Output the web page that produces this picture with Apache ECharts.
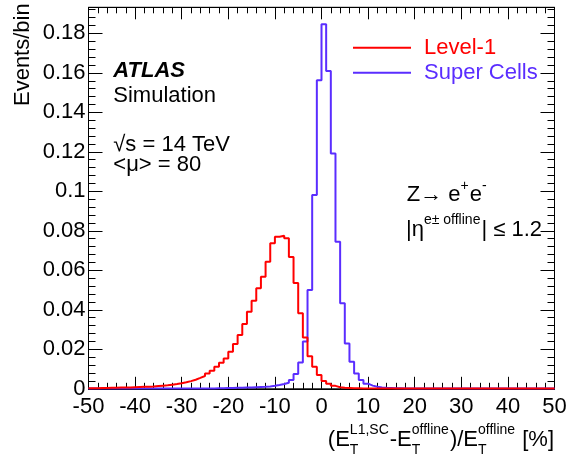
<!DOCTYPE html>
<html><head><meta charset="utf-8">
<script src="https://cdn.jsdelivr.net/npm/echarts@6/dist/echarts.min.js"></script>
<style>html,body{margin:0;padding:0;background:#fff}#c{width:580px;height:464px}</style>
</head><body><div id="c"></div>
<script>
// ---- data ----
const xMin = -50, xMax = 50, binWidth = 1;
const yMin = 0, yMax = 0.1932;
const xTickStep = 10, yTickStep = 0.02, yMinorStep = 0.004;
const seriesNames = ['Level-1', 'Super Cells'];
// bins from -50 to 49 (1% wide)
const level1 = [
  0.0003,0.0003,0.0004,0.0004,0.0005,0.0005,0.0006,0.0006,0.0007,0.0008,
  0.0009,0.0010,0.0011,0.0012,0.0014,0.0016,0.0018,0.0021,0.0024,0.0028,
  0.0033,0.0039,0.0046,0.0055,0.0065,0.0078,0.0092,0.0112,0.0132,0.0154,
  0.0188,0.0227,0.0272,0.0328,0.0390,0.0446,0.0509,0.0568,0.0644,0.0737,
  0.0770,0.0775,0.0762,0.0668,0.0536,0.0383,0.0260,0.0165,0.0112,0.0070,
  0.0040,0.0026,0.0015,0.0008,0.0005,0.0004,0.0003,0.0003,0.0002,0.0002,
  0.0002,0.0002,0.0002,0.0002,0.0002,0.0001,0.0001,0.0001,0.0001,0.0001,
  0.0001,0.0001,0.0001,0.0001,0.0001,0.0001,0.0001,0.0001,0.0001,0.0001,
  0.0001,0.0001,0.0001,0.0001,0.0001,0.0001,0.0001,0.0001,0.0001,0.0001,
  0.0001,0.0001,0.0001,0.0001,0.0001,0.0001,0.0001,0.0001,0.0001,0.0001
];
const superCells = [
  0.0001,0.0001,0.0001,0.0001,0.0001,0.0001,0.0001,0.0001,0.0001,0.0001,
  0.0001,0.0001,0.0001,0.0001,0.0001,0.0001,0.0001,0.0001,0.0001,0.0001,
  0.0001,0.0001,0.0001,0.0002,0.0002,0.0002,0.0002,0.0003,0.0003,0.0004,
  0.0004,0.0005,0.0005,0.0006,0.0007,0.0008,0.0009,0.0010,0.0012,0.0015,
  0.0019,0.0024,0.0031,0.0045,0.0075,0.0133,0.0239,0.0500,0.0981,0.1563,
  0.1846,0.1609,0.1192,0.0745,0.0433,0.0230,0.0137,0.0078,0.0045,0.0026,
  0.0016,0.0010,0.0007,0.0005,0.0004,0.0003,0.0003,0.0002,0.0002,0.0002,
  0.0001,0.0001,0.0001,0.0001,0.0001,0.0001,0.0001,0.0001,0.0001,0.0001,
  0.0001,0.0001,0.0001,0.0001,0.0001,0.0001,0.0001,0.0001,0.0001,0.0001,
  0.0001,0.0001,0.0001,0.0001,0.0001,0.0001,0.0001,0.0001,0.0001,0.0001
];

// ---- style ----
const FF = '"Liberation Sans", Arial, Helvetica, sans-serif';
const RED = '#ff0000', BLUE = '#5a2dff';
const MAIN = 22, SCRIPT = 14;

function histPoints(vals) {
  const pts = [[xMin, vals[0]]];
  vals.forEach((v, i) => pts.push([xMin + (i + 1) * binWidth, v]));
  return pts;
}

const mctx = document.createElement('canvas').getContext('2d');
function fontOf(sz, pre) { return (pre || '') + sz + 'px ' + FF; }
function measure(t, f) { mctx.font = f; return mctx.measureText(t).width; }
const MID = 0.33;
function layout(tokens, x0, base, align, color, supRaise, subDrop) {
  let w = 0; const items = [];
  tokens.forEach(tk => {
    if (tk.t !== undefined) {
      const f = fontOf(MAIN, tk.pre);
      items.push({ text: tk.t, dx: w, dy: 0, size: MAIN, font: f });
      w += measure(tk.t, f);
    } else {
      let ww = 0; const f = fontOf(SCRIPT);
      if (tk.sup) { items.push({ text: tk.sup, dx: w, dy: -supRaise, size: SCRIPT, font: f }); ww = Math.max(ww, measure(tk.sup, f)); }
      if (tk.sub) { items.push({ text: tk.sub, dx: w, dy: subDrop, size: SCRIPT, font: f }); ww = Math.max(ww, measure(tk.sub, f)); }
      w += ww + 1;
    }
  });
  const start = align === 'right' ? x0 - w : x0;
  return items.map(it => ({
    type: 'text', x: start + it.dx, y: base + it.dy - MID * it.size, silent: true,
    style: { text: it.text, font: it.font, fill: color, align: 'left', verticalAlign: 'middle',
             textAlign: 'left', textVerticalAlign: 'middle' }
  }));
}
function simpleText(t, x, base, pre) {
  return layout([{ t: t, pre: pre }], x, base, 'left', '#000', 0, 0);
}

const graphics = [].concat(
  [{ type: 'text', x: 23.3, y: 3.3, rotation: Math.PI / 2, silent: true,
     style: { text: 'Events/bin', font: fontOf(MAIN), fill: '#000', align: 'right', verticalAlign: 'middle',
              textAlign: 'right', textVerticalAlign: 'middle' } }],
  simpleText('ATLAS', 113.3, 78.3, 'italic bold '),
  simpleText('Simulation', 113.3, 103.3),
  simpleText('\u221As = 14 TeV', 113.3, 151.7),
  simpleText('<\u03bc> = 80', 113.3, 171.7),
  layout([{ t: 'Z\u2192 e' }, { sup: '+' }, { t: 'e' }, { sup: '-' }], 406.7, 201.7, 'left', '#000', 11, 0),
  layout([{ t: '|\u03b7' }, { sup: 'e\u00b1 offline' }, { t: '| \u2264 1.2' }], 406, 236.7, 'left', '#000', 11.5, 0),
  layout([{ t: '(E' }, { sup: 'L1,SC', sub: 'T' }, { t: '-E' }, { sup: 'offline', sub: 'T' },
          { t: ')/E' }, { sup: 'offline', sub: 'T' }, { t: ' [%]' }], 554, 447, 'right', '#000', 12, 8)
);

function xAx(pos, showLabel) {
  return {
    type: 'value', position: pos, min: xMin, max: xMax, interval: xTickStep,
    axisLine: { show: true, onZero: false, lineStyle: { color: '#000', width: 1 } },
    axisTick: { show: true, inside: true, length: 12, lineStyle: { color: '#000', width: 1 } },
    minorTick: { show: true, splitNumber: 5, length: 6, lineStyle: { color: '#000', width: 1 } },
    splitLine: { show: false }, minorSplitLine: { show: false },
    axisLabel: { show: showLabel, margin: 7, fontSize: MAIN, fontFamily: FF, color: '#000' }
  };
}
function yAx(pos, major, showLabel) {
  return {
    type: 'value', position: pos, min: yMin, max: yMax, interval: major ? yTickStep : yMinorStep,
    axisLine: { show: major, onZero: false, lineStyle: { color: '#000', width: 1 } },
    axisTick: { show: true, inside: true, length: major ? 14 : 7, lineStyle: { color: '#000', width: 1 } },
    splitLine: { show: false },
    axisLabel: {
      show: showLabel, margin: 3, fontSize: MAIN, fontFamily: FF, color: '#000', showMaxLabel: false,
      formatter: v => (Math.abs(v / yTickStep - Math.round(v / yTickStep)) < 1e-6) ? String(+v.toFixed(2)) : ''
    }
  };
}

const chart = echarts.init(document.getElementById('c'));
chart.setOption({
  animation: false,
  backgroundColor: '#fff',
  grid: { left: 88.5, right: 25.5, top: 7.3, bottom: 75.2, show: true, borderColor: '#000', borderWidth: 1, backgroundColor: 'transparent' },
  xAxis: [xAx('bottom', true), xAx('top', false)],
  yAxis: [yAx('left', true, true), yAx('left', false, false), yAx('right', true, false), yAx('right', false, false)],
  legend: {
    orient: 'vertical', left: 348, top: 31.7, itemGap: 3, itemWidth: 58, itemHeight: 2,
    icon: 'rect', selectedMode: false,
    textStyle: { fontSize: MAIN, fontFamily: FF, padding: [0, 0, 0, 8], lineHeight: 22 },
    data: [
      { name: seriesNames[0], textStyle: { color: RED } },
      { name: seriesNames[1], textStyle: { color: BLUE } }
    ]
  },
  series: [
    { name: seriesNames[1], type: 'line', step: 'start', showSymbol: false, symbol: 'none',
      data: histPoints(superCells), color: BLUE, lineStyle: { color: BLUE, width: 2 }, xAxisIndex: 0, yAxisIndex: 0 },
    { name: seriesNames[0], type: 'line', step: 'start', showSymbol: false, symbol: 'none',
      data: histPoints(level1), color: RED, lineStyle: { color: RED, width: 2 }, xAxisIndex: 0, yAxisIndex: 0 }
  ],
  graphic: { elements: graphics }
});
</script></body></html>
